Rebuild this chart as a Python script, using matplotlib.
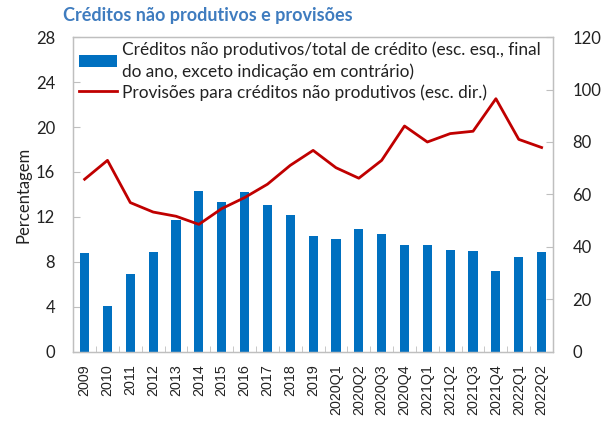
import matplotlib
matplotlib.use("Agg")
import matplotlib.pyplot as plt
import numpy as np

# periods on the x axis
periods = ["2009", "2010", "2011", "2012", "2013", "2014", "2015", "2016",
           "2017", "2018", "2019", "2020Q1", "2020Q2", "2020Q3", "2020Q4",
           "2021Q1", "2021Q2", "2021Q3", "2021Q4", "2022Q1", "2022Q2"]

# non-performing loans / total loans (%, left axis)
npl_ratio = [8.8, 4.1, 6.9, 8.9, 11.7, 14.3, 13.3, 14.2, 13.1, 12.15, 10.35,
             10.05, 10.95, 10.5, 9.55, 9.55, 9.07, 9.0, 7.17, 8.42, 8.9]

# provisions for non-performing loans (%, right axis)
provisions = [65.8, 73.0, 56.9, 53.3, 51.7, 48.6, 54.6, 58.8, 63.9, 71.1, 76.8,
              70.2, 66.2, 73.0, 86.1, 80.0, 83.2, 84.1, 96.5, 81.0, 77.9]

left_ticks = [0, 4, 8, 12, 16, 20, 24, 28]
right_ticks = [0, 20, 40, 60, 80, 100, 120]

plt.rcParams['font.family'] = ['Lato', 'DejaVu Sans']

grey = "#bfbfbf"
fig = plt.figure(figsize=(6.1, 4.26), dpi=100)
ax = fig.add_axes([0.12, 0.174, 0.7866, 0.739])
ax2 = ax.twinx()

x = np.arange(len(periods))
bars = ax.bar(x, npl_ratio, width=0.4, color="#0070c0", zorder=2)
line, = ax2.plot(x, provisions, color="#c00000", lw=2.0, zorder=3)

ax.set_xlim(-0.5, len(periods) - 0.5)
ax.set_ylim(0, 28)
ax2.set_ylim(0, 120)
ax.set_yticks(left_ticks)
ax2.set_yticks(right_ticks)

ax.set_xticks(x)
ax.set_xticklabels(periods, rotation=90, fontsize=10.3, family="Liberation Sans",
                   color="#222222")
ax.tick_params(axis="x", length=0, pad=9)
ax.set_xticks(np.arange(-0.5, len(periods)), minor=True)
ax.tick_params(axis="x", which="minor", direction="in", length=4, color=grey)

ax.tick_params(axis="y", direction="in", length=5, color=grey, labelsize=12,
               pad=13, labelcolor="#222222")
ax2.tick_params(axis="y", direction="in", length=5, color=grey, labelsize=12,
                pad=14, labelcolor="#222222")

for a in (ax, ax2):
    for s in a.spines.values():
        s.set_color(grey)
        s.set_linewidth(0.9)

ax.set_ylabel("Percentagem", fontsize=12, labelpad=3, color="#222222")

leg = ax2.legend([bars, line],
                 ["Créditos não produtivos/total de crédito (esc. esq., final\n"
                  "do ano, exceto indicação em contrário)",
                  "Provisões para créditos não produtivos (esc. dir.)"],
                 loc="upper left", bbox_to_anchor=(-0.01, 1.02), frameon=False,
                 fontsize=12.4, handlelength=2.2, handletextpad=0.3,
                 labelspacing=0.25, borderaxespad=0.2)
for t in leg.get_texts():
    t.set_color("#222222")
    t.set_linespacing(1.4)

fig.text(0.103, 0.963, "Créditos não produtivos e provisões", fontsize=13,
         fontweight="bold", color="#3f7cbf", va="center", ha="left")

fig.savefig("out.png", dpi=100)
